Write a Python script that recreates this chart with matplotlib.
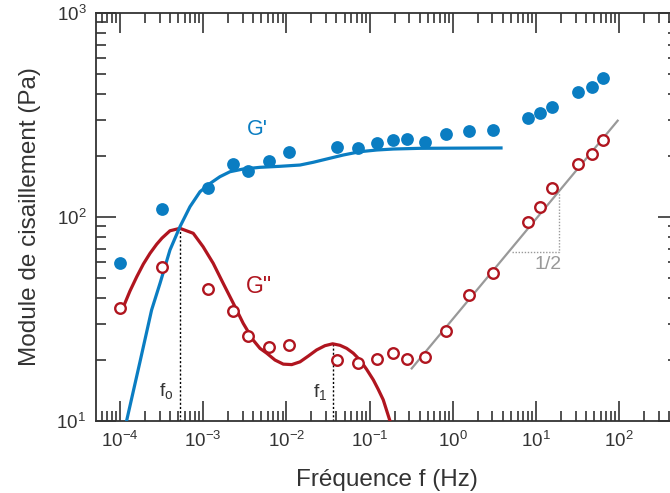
import numpy as np
import matplotlib
matplotlib.use("Agg")
import matplotlib.pyplot as plt

plt.rcParams['font.family'] = ['Liberation Sans', 'DejaVu Sans']
plt.rcParams['mathtext.fontset'] = 'custom'
plt.rcParams['mathtext.rm'] = 'Liberation Sans'
plt.rcParams['mathtext.it'] = 'Liberation Sans'
plt.rcParams['mathtext.default'] = 'regular'

# frequences de mesure (Hz)
freq = [1.0e-4, 3.2e-4, 1.14e-3, 2.28e-3, 3.45e-3, 6.2e-3, 1.07e-2, 0.0405,
        0.073, 0.123, 0.191, 0.282, 0.463, 0.828, 1.57, 3.04, 8.0, 11.2,
        15.6, 32.0, 47.1, 63.8]
# module elastique G' (Pa)
g_prime = [59.5, 109, 139, 182, 168, 188, 208, 220, 218, 230, 238, 241,
           233, 255, 264, 267, 306, 323, 346, 410, 434, 480]
# module visqueux G'' (Pa)
g_second = [35.9, 56.7, 44.2, 34.6, 26.1, 23.1, 23.7, 19.8, 19.2, 20.1,
            21.6, 20.1, 20.5, 27.5, 41.6, 53.1, 94.8, 111.6, 138.2, 182,
            203.6, 237.6]

# courbes ajustees
fit_f_gp = [1.12e-4, 1.2e-4, 1.74e-4, 2.40e-4, 3.03e-4, 3.99e-4, 5.26e-4,
            6.94e-4, 9.16e-4, 1.21e-3, 1.59e-3, 2.10e-3, 3.03e-3, 4.82e-3,
            8.38e-3, 1.46e-2, 2.10e-2, 3.05e-2, 4.83e-2, 7.67e-2, 0.122,
            0.193, 0.404, 3.80]
fit_gp = [8.5, 10.0, 19.5, 35.0, 47.3, 68.9, 89.6, 112.3, 133, 146, 157.6,
          166.7, 171.9, 175.2, 177.2, 179.8, 185.4, 192.4, 201.3, 209, 213,
          215.4, 217.1, 218]

fit_f_gs = [1.10e-4, 1.32e-4, 1.59e-4, 1.91e-4, 2.30e-4, 2.76e-4, 3.20e-4,
            3.99e-4, 5.26e-4, 7.60e-4, 9.98e-4, 1.32e-3, 1.74e-3, 2.30e-3,
            3.03e-3, 4.00e-3, 4.82e-3, 5.80e-3, 7.30e-3, 9.18e-3, 1.16e-2,
            1.46e-2, 1.83e-2, 2.31e-2, 2.91e-2, 3.60e-2, 4.41e-2, 5.31e-2,
            6.37e-2, 7.67e-2, 9.23e-2, 0.111, 0.127, 0.146, 0.176, 0.186]
fit_gs = [36.3, 43.4, 50.9, 58.8, 66.4, 73.5, 78.8, 85.6, 88.0, 83.2, 71.5,
          59.3, 47.3, 37.8, 30.1, 24.9, 22.7, 21.5, 19.9, 19.0, 18.9, 19.5,
          20.8, 22.3, 23.4, 23.9, 23.5, 22.7, 21.5, 19.9, 17.9, 15.9, 14.3,
          12.7, 10.0, 9.0]

# droite de pente 1/2
slope_f = [0.321, 95.9]
slope_g = [18.1, 296.6]
tri_f = [5.1, 18.9, 18.9]
tri_g = [67.6, 67.6, 133]

f0, g0 = 5.2e-4, 88.0
f1, g1 = 3.60e-2, 23.9

xticks = [1e-4, 1e-3, 1e-2, 1e-1, 1e0, 1e1, 1e2]
yticks = [1e1, 1e2, 1e3]

blue = '#0a7dc2'
red = '#b0151f'
gray = '#999999'
dark = '#333333'

fig = plt.figure(figsize=(6.7, 4.93), dpi=100)
ax = fig.add_axes([96/670, 72/493, 582/670, 408/493])

ax.plot([f0, f0], [10, g0], color='k', lw=1, ls=(0, (1.5, 1.5)), zorder=1)
ax.plot([f1, f1], [10, g1], color='k', lw=1, ls=(0, (1.5, 1.5)), zorder=1)
ax.plot(tri_f, tri_g, color=gray, lw=1, ls=(0, (1, 1.2)), zorder=1)
ax.plot(slope_f, slope_g, color=gray, lw=1.6, zorder=2)

ax.plot(fit_f_gs, fit_gs, color=red, lw=2.3, zorder=3, solid_joinstyle='round')
ax.plot(fit_f_gp, fit_gp, color=blue, lw=2.3, zorder=4, solid_joinstyle='round')

ax.plot(freq, g_prime, 'o', color=blue, ms=9.2, mec='none', zorder=5)
ax.plot(freq, g_second, 'o', mfc='white', mec=red, ms=7.6, mew=1.7, zorder=5)

ax.set_xscale('log')
ax.set_yscale('log')
ax.set_xticks(xticks)
ax.set_yticks(yticks)
ax.set_xlim(10**-4.288, 10**2.707)
ax.set_ylim(10, 1000)

ax.text(4.44e-3, 270, "G'", color=blue, fontsize=15.5, ha='center', va='center')
ax.text(4.69e-3, 45.4, 'G"', color=red, fontsize=16.5, ha='center', va='center')
ax.text(3.57e-4, 14.0, r'f$_\mathrm{o}$', color=dark, fontsize=14, ha='center', va='center')
ax.text(2.54e-2, 13.9, r'f$_\mathrm{1}$', color=dark, fontsize=14, ha='center', va='center')
ax.text(13.9, 58.2, '1/2', color=gray, fontsize=14, ha='center', va='center')

ax.set_xlabel('Fréquence f (Hz)', fontsize=17.5, color=dark, labelpad=13)
ax.set_ylabel('Module de cisaillement (Pa)', fontsize=17.5, color=dark, labelpad=11)

ax.xaxis.set_minor_locator(matplotlib.ticker.LogLocator(base=10, subs=np.arange(2, 10), numticks=20))
ax.xaxis.set_minor_formatter(matplotlib.ticker.NullFormatter())
ax.yaxis.set_minor_formatter(matplotlib.ticker.NullFormatter())

ax.tick_params(which='both', direction='in', top=True, right=True,
               color=dark, width=1.2, labelcolor=dark, labelsize=13.5)
ax.tick_params(which='major', length=14.4, pad=7)
ax.tick_params(which='minor', length=7.2)
for s in ax.spines.values():
    s.set_color(dark)
    s.set_linewidth(1.3)

fig.savefig('out.png', dpi=100)
